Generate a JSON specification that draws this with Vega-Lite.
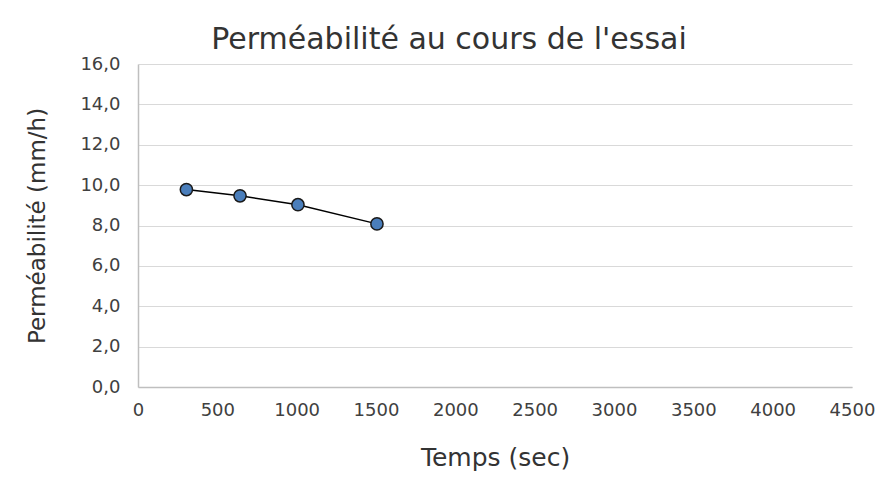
{
  "$schema": "https://vega.github.io/schema/vega-lite/v6.json",
  "width": 714,
  "height": 323,
  "autosize": {"type": "none"},
  "padding": {"left": 138, "top": 64, "right": 42, "bottom": 92},
  "background": "white",
  "title": {
    "text": "Perméabilité au cours de l'essai",
    "fontSize": 30,
    "font": "DejaVu Sans",
    "fontWeight": "normal",
    "color": "#333333",
    "anchor": "middle",
    "dx": -46,
    "offset": 0
  },
  "data": {
    "values": [
      {"temps": 305, "perm": 9.78},
      {"temps": 643, "perm": 9.47},
      {"temps": 1008, "perm": 9.03},
      {"temps": 1506, "perm": 8.08}
    ]
  },
  "encoding": {
    "x": {
      "field": "temps",
      "type": "quantitative",
      "scale": {"domain": [0, 4500], "nice": false},
      "axis": {
        "title": "Temps (sec)",
        "titleFontSize": 25,
        "values": [0, 500, 1000, 1500, 2000, 2500, 3000, 3500, 4000, 4500],
        "format": "d",
        "grid": false,
        "ticks": false,
        "labelFlush": false,
        "labelPadding": 14,
        "titlePadding": 26
      }
    },
    "y": {
      "field": "perm",
      "type": "quantitative",
      "scale": {"domain": [0, 16], "nice": false},
      "axis": {
        "title": "Perméabilité (mm/h)",
        "titleFontSize": 23,
        "values": [0, 2, 4, 6, 8, 10, 12, 14, 16],
        "format": ".1f",
        "grid": true,
        "ticks": false,
        "labelFlush": false,
        "labelPadding": 18,
        "titlePadding": 30
      }
    }
  },
  "layer": [
    {"mark": {"type": "line", "color": "#000000", "strokeWidth": 1.5}},
    {"mark": {"type": "point", "filled": true, "fill": "#4a7ebb", "stroke": "#1a1a1a", "strokeWidth": 1.5, "size": 150, "opacity": 1}}
  ],
  "config": {
    "locale": {"number": {"decimal": ",", "thousands": " ", "grouping": [3], "currency": ["", " €"]}},
    "view": {"stroke": null},
    "font": "DejaVu Sans",
    "axis": {
      "labelFont": "DejaVu Sans",
      "titleFont": "DejaVu Sans",
      "labelFontSize": 18,
      "labelColor": "#404040",
      "titleFontWeight": "normal",
      "titleColor": "#333333",
      "domainColor": "#bfbfbf",
      "domainWidth": 1.5,
      "gridColor": "#d9d9d9",
      "gridWidth": 1
    }
  }
}
